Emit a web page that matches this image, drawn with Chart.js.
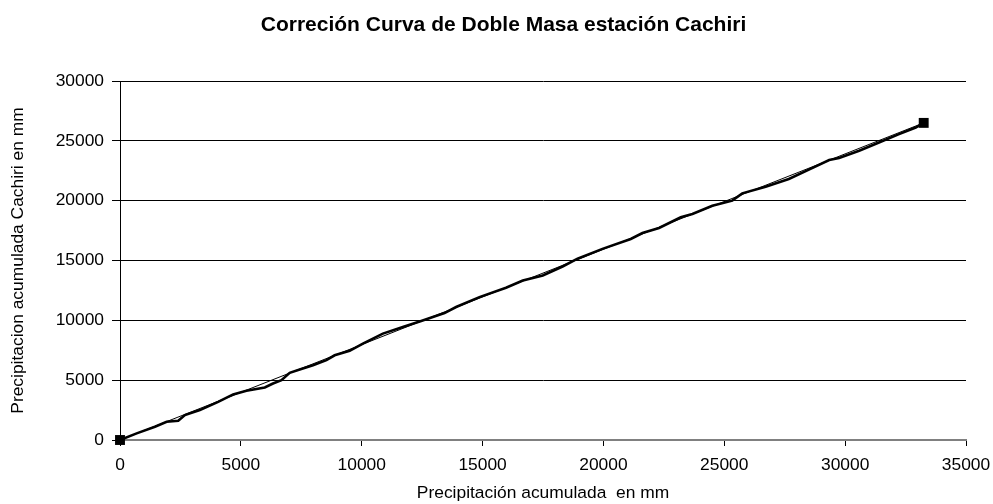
<!DOCTYPE html>
<html><head><meta charset="utf-8">
<script src="https://cdn.jsdelivr.net/npm/chart.js@4"></script>
<style>html,body{margin:0;padding:0;background:#fff}#w{width:993px;height:504px}</style>
</head><body><div id="w"><canvas id="c" width="993" height="504"></canvas></div>
<script>
const xAcum = [0,690,1446,1930,2410,2685,3305,4060,4475,4680,5230,5990,6330,6680,7020,7435,7985,8540,8880,9500,10050,10875,11700,12460,13425,13905,14870,15970,16665,17490,18310,18930,19960,21130,21615,22300,23200,23680,24505,25330,25745,26710,27670,28500,29340,29750,30580,31400,32230,32920,33250];
const yCachiri = [0,555,1110,1530,1610,2080,2500,3190,3610,3800,4110,4390,4720,5000,5610,5890,6250,6670,7080,7450,8060,8890,9440,9940,10610,11110,11940,12720,13330,13750,14500,15150,15970,16800,17300,17720,18610,18890,19580,20000,20610,21170,21810,22600,23390,23560,24170,24860,25560,26110,26500];
const trendX = [0,33250];
const trendY = [0,26500];
const xTicks = [0,5000,10000,15000,20000,25000,30000,35000];
const yTicks = [0,5000,10000,15000,20000,25000,30000];

const curve = xAcum.map((x,i)=>({x:x,y:yCachiri[i]}));
const trend = trendX.map((x,i)=>({x:x,y:trendY[i]}));
const FONT = "'Liberation Sans', Arial, sans-serif";
const FS = 17.4;

const titleShift = {
  id:'titleShift',
  afterLayout(chart){ if(chart.titleBlock){ chart.titleBlock.left = 14; chart.titleBlock.right = 993; } }
};

new Chart(document.getElementById('c'), {
  type: 'scatter',
  data: { datasets: [
    { label:'Curva', data: curve, showLine:true, borderColor:'#000', borderWidth:2.6, pointRadius:0, tension:0, clip:false },
    { label:'Tendencia', data: trend, showLine:true, borderColor:'#000', borderWidth:1, pointStyle:'rect', pointRadius:7, pointBackgroundColor:'#000', pointBorderColor:'#000', pointBorderWidth:0, clip:false }
  ]},
  plugins:[titleShift],
  options: {
    responsive:false, animation:false,
    layout:{ padding:{ left:0, right:27, top:0, bottom:0 } },
    plugins:{
      legend:{ display:false }, tooltip:{ enabled:false },
      title:{ display:true, text:'Correción Curva de Doble Masa estación Cachiri', color:'#000',
        font:{ family:FONT, size:21, weight:'bold' }, padding:{ top:13, bottom:42.8 } }
    },
    scales:{
      x:{ type:'linear', min:0, max:35000,
        afterBuildTicks: s => { s.ticks = xTicks.map(v=>({value:v})); },
        afterFit: s => { s.height = 64; s.paddingRight = 0; s.paddingLeft = 0; },
        grid:{ drawOnChartArea:false, drawTicks:true, tickLength:6, tickColor:'#000' },
        border:{ color:'#808080', width:2 },
        ticks:{ color:'#000', font:{ family:FONT, size:FS }, padding:9, maxRotation:0, callback: v => String(v) },
        title:{ display:true, text:'Precipitación acumulada  en mm', color:'#000', font:{ family:FONT, size:FS }, padding:{top:4, bottom:0} }
      },
      y:{ type:'linear', min:0, max:30000,
        afterBuildTicks: s => { s.ticks = yTicks.map(v=>({value:v})); },
        afterFit: s => { s.width = 120; },
        grid:{ color: c => c.tick && c.tick.value===0 ? '#808080' : '#000', lineWidth:1, tickLength:8, tickColor:'#000' },
        border:{ color:'#000', width:1 },
        ticks:{ color:'#000', font:{ family:FONT, size:FS }, padding:8, callback: v => String(v) },
        title:{ display:true, text:'Precipitacion acumulada Cachiri en mm', color:'#000', font:{ family:FONT, size:FS }, padding:{top:8,bottom:0} }
      }
    }
  }
});
</script></body></html>
